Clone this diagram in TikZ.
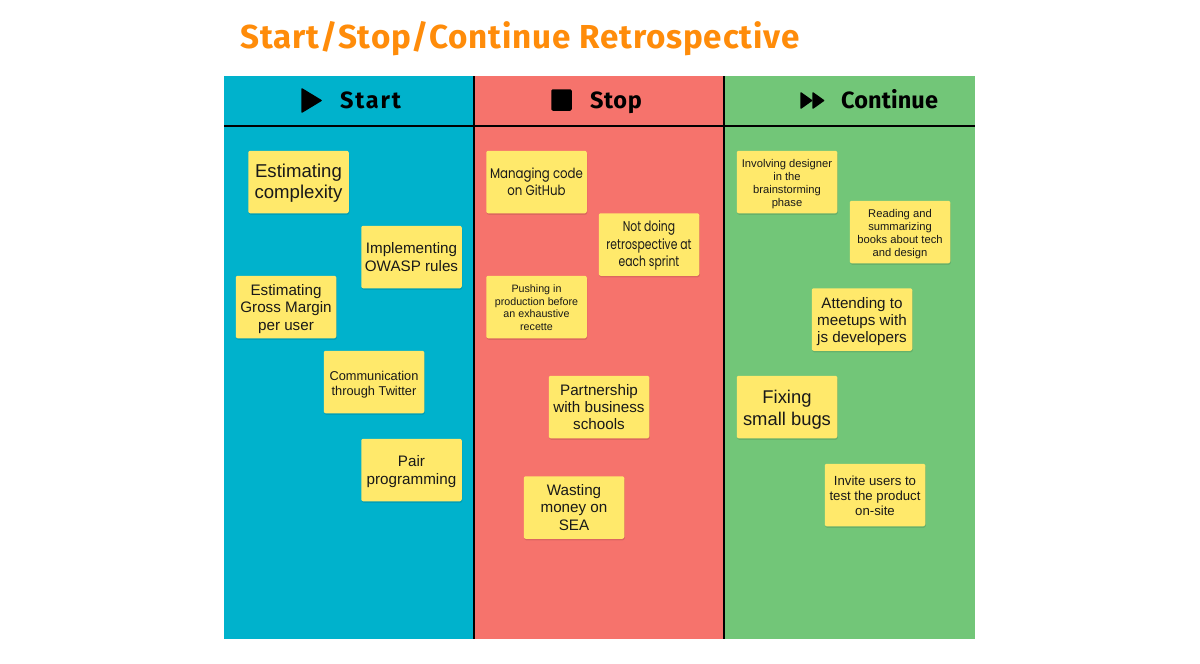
\documentclass[tikz,border=0pt]{standalone}
\usepackage{fontspec}
\setmainfont{Liberation Sans}
\newfontfamily\headfont[LetterSpace=2.5]{Fira Sans}
\newfontfamily\headfontwide[LetterSpace=7.5]{Fira Sans}
\newfontfamily\headfonttight[LetterSpace=0.5]{Fira Sans}
\newfontfamily\geofont[FakeStretch=0.84]{Poppins}
\newfontfamily\geofontnarrow[FakeStretch=0.76]{Poppins}
\usetikzlibrary{shadows}
\definecolor{panelblue}{HTML}{00B2CC}
\definecolor{panelred}{HTML}{F6736C}
\definecolor{panelgreen}{HTML}{72C678}
\definecolor{stickyyellow}{HTML}{FFE96B}
\definecolor{titleorange}{HTML}{FF8C0A}
\newcommand{\dnr}[1]{\rule{0pt}{\dimexpr 0.73em+#1pt+#1pt\relax}}
\tikzset{x=1pt,y=-1pt,
  sticky/.style={rectangle,fill=stickyyellow,rounded corners=2pt,minimum width=100.5pt,minimum height=62.5pt,inner sep=0pt,align=center,text=black!90,
    drop shadow={shadow xshift=0.5pt,shadow yshift=-1.5pt,opacity=0.1,fill=black}},
  fs/.style 2 args={font=\fontsize{#1}{#2}\selectfont},
  geo/.style 2 args={font=\geofont\fontsize{#1}{#2}\selectfont},
  geon/.style 2 args={font=\geofontnarrow\fontsize{#1}{#2}\selectfont},
  panel/.style={rectangle,draw=none,minimum width=250pt,minimum height=563pt,inner sep=0pt},
  divider/.style={draw=black,line width=2pt},
  headtext/.style={text=black,inner sep=0pt},
  icon/.style={fill=black,draw=black,line width=1.5pt,line join=round}
}
\begin{document}
\begin{tikzpicture}
\useasboundingbox (0,0) rectangle (1200,664);
\node[panel,fill=panelblue,anchor=north west] (pa) at (224,76) {};
\node[panel,fill=panelred,anchor=north west] (pb) at (474,76) {};
\node[panel,fill=panelgreen,anchor=north west,minimum width=250.5pt] (pc) at (724,76) {};
\draw[divider] (pb.north west) -- (pb.south west);
\draw[divider] (pc.north west) -- (pc.south west);
\coordinate (hl) at (224,125.5);
\coordinate (hr) at (974.5,125.5);
\draw[divider] (hl) -- (hr);
\node[font=\headfont\bfseries\fontsize{33.2}{36}\selectfont,text=titleorange,inner sep=0pt,anchor=base west] (title) at (240,48) {Start/Stop/Continue Retrospective};
\node[headtext,font=\headfontwide\bfseries\fontsize{23.5}{26}\selectfont,anchor=base west] (h1) at (340,108) {Start};
\node[headtext,font=\headfont\bfseries\fontsize{23.5}{26}\selectfont,anchor=base west] (h2) at (590,108) {Stop};
\node[headtext,font=\headfonttight\bfseries\fontsize{23.5}{26}\selectfont,anchor=base west] (h3) at (841,108) {Continue};
\fill[icon] (302,89) -- (321,100.5) -- (302,112) -- cycle;
\fill[icon,rounded corners=1pt] (552,90) rectangle (571,110);
\fill[icon] (801,93) -- (811.5,100.5) -- (801,108) -- cycle;
\fill[icon] (813,93) -- (823.5,100.5) -- (813,108) -- cycle;
% Start
\node[sticky,fs={18.6}{21}] (s1) at (298.5,182) {\dnr{1.5}Estimating\\complexity};
\node[sticky,fs={15.2}{17.3}] (s2) at (411.5,257) {Implementing\\OWASP rules};
\node[sticky,fs={15.2}{17.5}] (s3) at (286,307) {\dnr{2}Estimating\\Gross Margin\\per user};
\node[sticky,fs={12.8}{15.3}] (s4) at (374,382) {\dnr{2.5}Communication\\through Twitter};
\node[sticky,fs={15.2}{17.3}] (s5) at (411.5,470) {\dnr{1.5}Pair\\programming};
% Stop
\node[sticky,geo={14}{17.3}] (t1) at (536.5,182) {Managing code\\on GitHub};
\node[sticky,geon={14.2}{17.5}] (t2) at (649,244.5) {\dnr{1.5}Not doing\\retrospective at\\each sprint};
\node[sticky,fs={10.7}{12.7}] (t3) at (536.5,307) {\dnr{0.5}Pushing in\\production before\\an exhaustive\\recette};
\node[sticky,fs={15.2}{17}] (t4) at (599,407) {\dnr{0.5}Partnership\\with business\\schools};
\node[sticky,fs={15.2}{17.3}] (t5) at (574,507.5) {Wasting\\money on\\SEA};
% Continue
\node[sticky,fs={11.2}{13.2}] (c1) at (787,182) {\dnr{2}Involving designer\\in the\\brainstorming\\phase};
\node[sticky,fs={11.2}{13.2}] (c2) at (900,232) {\dnr{2}Reading and\\summarizing\\books about tech\\and design};
\node[sticky,fs={15.2}{17}] (c3) at (862,319.5) {\dnr{2}Attending to\\meetups with\\js developers};
\node[sticky,fs={18.4}{22}] (c4) at (787,407) {\dnr{2.5}Fixing\\small bugs};
\node[sticky,fs={13.2}{15}] (c5) at (875,495) {\dnr{1}Invite users to\\test the product\\on-site};
\end{tikzpicture}
\end{document}
